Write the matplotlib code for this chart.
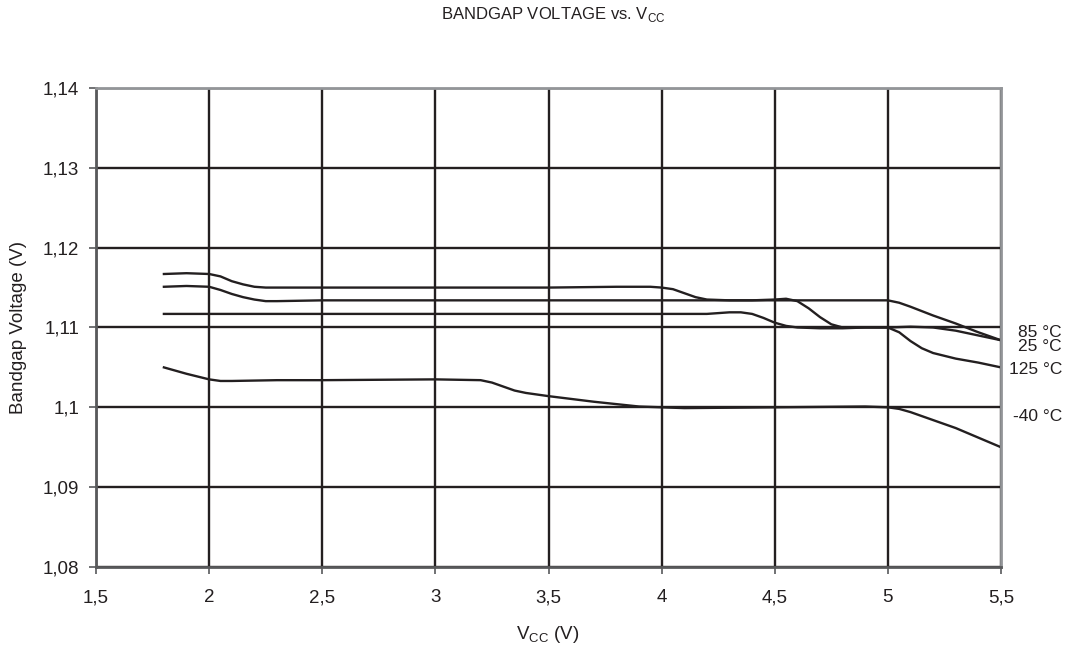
import matplotlib
matplotlib.use("Agg")
import matplotlib.pyplot as plt

plt.rcParams['font.family'] = ['Liberation Sans', 'DejaVu Sans']

t85_x = [1.8, 1.9, 2.0, 2.05, 2.1, 2.15, 2.2, 2.25, 2.35, 2.5, 3.0, 3.5, 3.8, 3.95, 4.0, 4.05, 4.1, 4.15, 4.2,
         4.3, 4.5, 4.7, 4.9, 5.0, 5.05, 5.1, 5.2, 5.3, 5.4, 5.5]
t85_y = [1.1167, 1.1168, 1.1167, 1.1164, 1.1158, 1.1154, 1.1151, 1.1150, 1.1150, 1.1150, 1.1150, 1.1150, 1.1151,
         1.1151, 1.1150, 1.1148, 1.1143, 1.1138, 1.1135, 1.1134, 1.1134, 1.1134, 1.1134, 1.1134, 1.1131, 1.1126,
         1.1115, 1.1105, 1.1094, 1.1084]

t25_x = [1.8, 1.9, 2.0, 2.05, 2.1, 2.15, 2.2, 2.25, 2.3, 2.5, 3.0, 3.5, 4.0, 4.4, 4.5, 4.55, 4.6, 4.65, 4.7, 4.75,
         4.8, 4.9, 5.0, 5.1, 5.2, 5.3, 5.4, 5.5]
t25_y = [1.1151, 1.1152, 1.1151, 1.1147, 1.1142, 1.1138, 1.1135, 1.1133, 1.1133, 1.1134, 1.1134, 1.1134, 1.1134,
         1.1134, 1.1135, 1.1136, 1.1133, 1.1124, 1.1113, 1.1104, 1.1100, 1.1100, 1.1100, 1.1101, 1.1100, 1.1096,
         1.1090, 1.1084]

t125_x = [1.8, 2.0, 2.5, 3.0, 3.5, 4.0, 4.2, 4.3, 4.35, 4.4, 4.45, 4.5, 4.55, 4.6, 4.7, 4.8, 4.9, 5.0, 5.05, 5.1,
          5.15, 5.2, 5.3, 5.4, 5.5]
t125_y = [1.1117, 1.1117, 1.1117, 1.1117, 1.1117, 1.1117, 1.1117, 1.1119, 1.1119, 1.1117, 1.1112, 1.1106, 1.1102,
          1.1100, 1.1099, 1.1099, 1.1100, 1.1100, 1.1094, 1.1083, 1.1074, 1.1068, 1.1061, 1.1056, 1.1050]

tm40_x = [1.8, 1.9, 2.0, 2.05, 2.1, 2.3, 2.5, 3.0, 3.2, 3.25, 3.3, 3.35, 3.4, 3.5, 3.7, 3.9, 4.0, 4.1, 4.5, 4.9,
          5.0, 5.05, 5.1, 5.2, 5.3, 5.4, 5.5]
tm40_y = [1.1050, 1.1042, 1.1035, 1.1033, 1.1033, 1.1034, 1.1034, 1.1035, 1.1034, 1.1031, 1.1026, 1.1021, 1.1018,
          1.1014, 1.1007, 1.1001, 1.1000, 1.0999, 1.1000, 1.1001, 1.1000, 1.0998, 1.0994, 1.0984, 1.0974, 1.0962,
          1.0950]

curve_labels = ['85 °C', '25 °C', '125 °C', '-40 °C']
label_y = [1.1094, 1.1076, 1.1047, 1.0988]

xticks = [1.5, 2, 2.5, 3, 3.5, 4, 4.5, 5, 5.5]
xticklabels = ['1,5', '2', '2,5', '3', '3,5', '4', '4,5', '5', '5,5']
yticks = [1.08, 1.09, 1.10, 1.11, 1.12, 1.13, 1.14]
yticklabels = ['1,08', '1,09', '1,1', '1,11', '1,12', '1,13', '1,14']

ink = '#231f20'

fig = plt.figure(figsize=(10.79, 6.49), dpi=100)
ax = fig.add_axes([0.0890, 0.1264, 0.8387, 0.7380])

for xs, ys in [(t85_x, t85_y), (t25_x, t25_y), (t125_x, t125_y), (tm40_x, tm40_y)]:
    ax.plot(xs, ys, color=ink, lw=1.7, solid_joinstyle='round', zorder=3)

ax.set_xlim(1.5, 5.5)
ax.set_ylim(1.08, 1.14)
ax.set_xticks(xticks)
ax.set_xticklabels(xticklabels)
ax.set_yticks(yticks)
ax.set_yticklabels(yticklabels)
ax.grid(True, color=ink, lw=1.7)
ax.set_axisbelow(True)

ax.spines['left'].set_color('#58595b')
ax.spines['bottom'].set_color('#58595b')
ax.spines['top'].set_color('#939598')
ax.spines['right'].set_color('#939598')
for s in ax.spines.values():
    s.set_linewidth(2)
    s.set_zorder(4)

ax.tick_params(axis='both', direction='out', length=5, width=1.2, color='#58595b', labelsize=13.5,
               labelcolor=ink)
ax.tick_params(axis='x', pad=11)
ax.tick_params(axis='y', pad=7)
ax.tick_params(top=False, right=False)

for lab, y in zip(curve_labels, label_y):
    ax.text(5.77, y, lab, ha='right', va='center', fontsize=12.5, color=ink, clip_on=False)

fig.text(0.513, 0.977, r'BANDGAP VOLTAGE vs. V$_{\mathregular{CC}}$', ha='center', va='center',
         fontsize=12, color=ink)
fig.text(0.508, 0.023, r'V$_{\mathregular{CC}}$ (V)', ha='center', va='center', fontsize=13.5, color=ink)
fig.text(0.017, 0.496, 'Bandgap Voltage (V)', rotation=90, ha='center', va='center', fontsize=13.5,
         color=ink)

fig.savefig('out.png', dpi=100)
